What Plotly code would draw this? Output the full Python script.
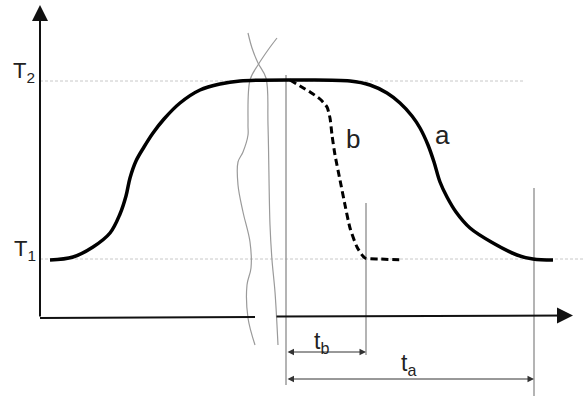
import plotly.graph_objects as go

# schematic units: t along the time axis, T along the temperature axis
T1 = 59
T2 = 237

# curve a (slow process)
a_t = [10, 33, 53, 70, 80, 86, 90, 96, 104, 113, 124, 140, 160, 180, 200, 260,
       310, 330, 347, 360, 372, 380, 388, 394, 400, 407, 416, 430, 453, 477, 493, 513]
a_T = [58, 61, 71, 85, 104, 122, 140, 157, 171, 185, 199, 215, 228, 234, 237, 238,
       237, 233, 225, 215, 202, 190, 173, 156, 136, 121, 106, 90, 75, 63, 59, 58]

# curve b (fast process, dashed)
b_t = [250, 260, 270, 280, 287, 290, 292, 295, 300, 305, 310, 317, 325, 340, 363]
b_T = [238, 232, 226, 219, 211, 200, 183, 163, 138, 113, 90, 71, 60, 59, 58]

# axis-break strands
brk1_t = [208, 212, 218, 226, 228, 230, 232, 235, 238]
brk1_T = [285, 270, 255, 240, 193, 93, 58, 26, -27]
brk2_t = [237, 228, 218, 210, 208, 208, 203, 198, 198, 203, 210, 211, 207, 208, 215]
brk2_T = [280, 268, 253, 238, 193, 183, 166, 156, 133, 106, 76, 50, 33, 0, -27]

# time marks
t_start = 246
t_b_end = 326
t_a_end = 494

fig = go.Figure()

gray_dot = dict(color='#c8c8c8', width=1, dash='3px,2px')
fig.add_trace(go.Scatter(x=[0, 485], y=[T2, T2], mode='lines', line=gray_dot))
fig.add_trace(go.Scatter(x=[0, 543], y=[T1, T1], mode='lines', line=gray_dot))

thin = dict(color='#8c8c8c', width=1.3)
fig.add_trace(go.Scatter(x=[t_start, t_start], y=[243, -67], mode='lines', line=thin))
fig.add_trace(go.Scatter(x=[t_b_end, t_b_end], y=[115, -37], mode='lines', line=thin))
fig.add_trace(go.Scatter(x=[t_a_end, t_a_end], y=[130, -80], mode='lines', line=thin))

brk = dict(color='#9a9a9a', width=1.2, shape='spline', smoothing=1)
fig.add_trace(go.Scatter(x=brk1_t, y=brk1_T, mode='lines', line=brk))
fig.add_trace(go.Scatter(x=brk2_t, y=brk2_T, mode='lines', line=brk))

fig.add_trace(go.Scatter(x=a_t, y=a_T, mode='lines',
                         line=dict(color='black', width=3.5, shape='spline', smoothing=1)))
fig.add_trace(go.Scatter(x=b_t, y=b_T, mode='lines',
                         line=dict(color='black', width=3, dash='7px,4px', shape='spline', smoothing=0.6)))

# x axis, left part up to the break
fig.add_trace(go.Scatter(x=[0, 215], y=[0, 1], mode='lines', line=dict(color='#111111', width=2)))

anns = []
# y axis arrow
anns.append(dict(x=0, y=313, ax=0, ay=0, axref='x', ayref='y', text='', showarrow=True,
                 arrowhead=2, arrowsize=1.6, arrowwidth=2, arrowcolor='#111111'))
# x axis arrow after the break
anns.append(dict(x=533, y=2.5, ax=235, ay=1.5, axref='x', ayref='y', text='', showarrow=True,
                 arrowhead=2, arrowsize=1.6, arrowwidth=2, arrowcolor='#111111'))
# duration arrows
for t_end, lvl in [(t_b_end, -34), (t_a_end, -61)]:
    anns.append(dict(x=t_end, y=lvl, ax=t_start, ay=lvl, axref='x', ayref='y', text='',
                     showarrow=True, arrowhead=2, startarrowhead=2, arrowside='end+start',
                     arrowsize=1.3, startarrowsize=1.3, arrowwidth=1, arrowcolor='#333333'))

font = dict(family='Liberation Sans, Arial, sans-serif', color='#222222')
labels = [
    ('T<sub>2</sub>', -16, 246, 22),
    ('T<sub>1</sub>', -15, 68, 22),
    ('a', 402, 183, 26),
    ('b', 313, 179, 26),
    ('t<sub>b</sub>', 281, -24, 23),
    ('t<sub>a</sub>', 368, -46, 23),
]
for txt, x, y, size in labels:
    anns.append(dict(x=x, y=y, text=txt, showarrow=False, font=dict(size=size, **font)))

fig.update_layout(
    width=583, height=396,
    margin=dict(l=0, r=0, t=0, b=0),
    showlegend=False,
    hovermode=False,
    plot_bgcolor='white', paper_bgcolor='white',
    xaxis=dict(range=[-40, 543], visible=False, fixedrange=True),
    yaxis=dict(range=[-78, 318], visible=False, fixedrange=True),
    annotations=anns,
)

# page body has a default 8px margin; drop it so the figure fills the window
fig.write_html("out.html", config={'displayModeBar': False},
               post_script="document.body.style.margin='0px';")
